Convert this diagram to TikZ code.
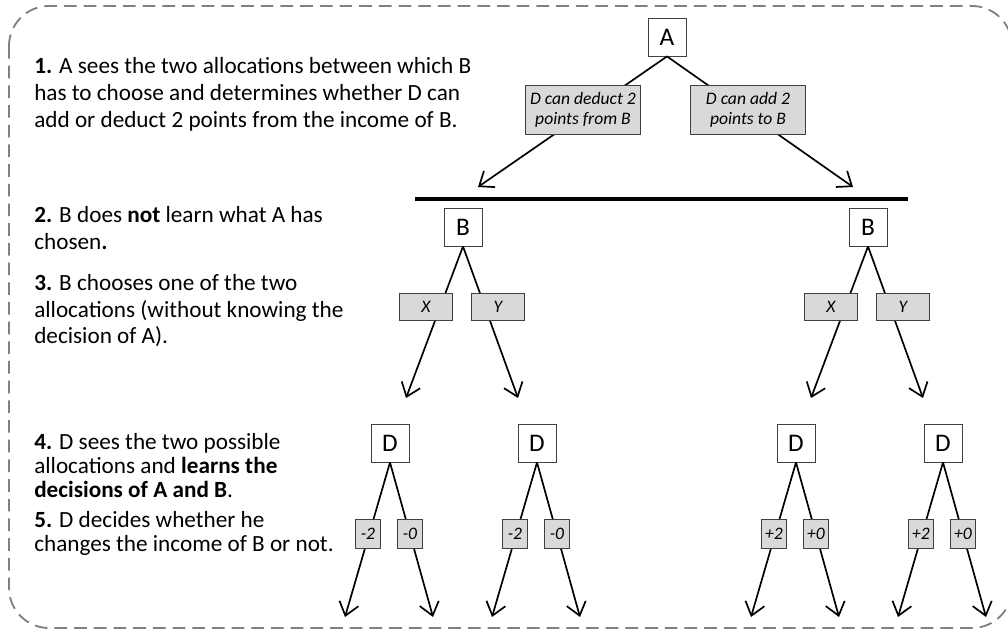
\documentclass[tikz,border=0pt]{standalone}
\usepackage{fontspec}
\setmainfont{Carlito}
\usetikzlibrary{positioning, arrows.meta}

\tikzset{
  player/.style={draw=black!75, line width=0.6pt, fill=white, minimum width=0.95cm, minimum height=0.95cm, inner sep=0pt, font=\fontsize{18}{18}\selectfont},
  choice/.style={draw=black!75, line width=0.6pt, fill=black!15, inner sep=0pt, align=center, font=\fontsize{12.5}{14.5}\selectfont\itshape},
  wide/.style={minimum width=2.875cm, minimum height=1.225cm},
  letter/.style={minimum width=1.325cm, minimum height=0.675cm},
  points/.style={minimum width=0.625cm, minimum height=0.725cm},
  arr/.style={-{Straight Barb[length=9pt,width=14pt]}, line width=1.2pt},
  textblock/.style={anchor=base west, align=left, inner sep=0pt, font=\fontsize{16.5}{19.2}\selectfont},
  tight/.style={font=\fontsize{16.5}{17}\selectfont}
}

\begin{document}
\begin{tikzpicture}[x=0.025cm, y=-0.025cm]
  % Rahmen
  \useasboundingbox (0,0) rectangle (1008,636);
  \draw[black!50, line width=1.3pt, dash pattern=on 9pt off 5pt, rounded corners=1cm] (9,6) rectangle (1012,628);

  % Ablauf (Anker = Grundlinie der letzten Zeile)
  \node[textblock] (t1) at (34,128) {\textbf{1.} A sees the two allocations between which B\\has to choose and determines whether D can\\add or deduct 2 points from the income of B.};
  \node[textblock] (t2) at (34,250) {\textbf{2.} B does \textbf{not} learn what A has\\chosen\textbf{.}};
  \node[textblock] (t3) at (34,344) {\textbf{3.} B chooses one of the two\\allocations (without knowing the\\decision of A).};
  \node[textblock, tight] (t4) at (34,497) {\textbf{4.} D sees the two possible\\allocations and \textbf{learns the}\\\textbf{decisions of A and B}.};
  \node[textblock, tight] (t5) at (34,551) {\textbf{5.} D decides whether he\\changes the income of B or not.};

  % A
  \node[player] (A) at (667,37) {A};
  \coordinate (a1) at (478,187);
  \coordinate (a2) at (853,187);
  \draw[arr] (A.south) -- (a1);
  \draw[arr] (A.south) -- (a2);
  \node[choice, wide] (deduct) at (583,110) {D can deduct 2\\points from B};
  \node[choice, wide] (add) at (748,110) {D can add 2\\points to B};

  % Informationsmenge
  \coordinate (i1) at (415,199);
  \coordinate (i2) at (908,199);
  \draw[line width=2.2pt] (i1) -- (i2);

  % B
  \foreach \n/\x in {bl/463, br/868} {
    \node[player] (\n) at (\x,227) {B};
    \coordinate (\n-x) at (\x-57,398);
    \coordinate (\n-y) at (\x+55,398);
    \draw[arr] (\n.south) -- (\n-x);
    \draw[arr] (\n.south) -- (\n-y);
    \node[choice, letter] (\n-X) at (\x-37,307) {X};
    \node[choice, letter] (\n-Y) at (\x+35,307) {Y};
  }

  % D
  \foreach \n/\x/\s in {d1/390/-, d2/537/-, d3/796/+, d4/943/+} {
    \node[player] (\n) at (\x,443) {D};
    \coordinate (\n-l) at (\x-45,617);
    \coordinate (\n-r) at (\x+43,617);
    \draw[arr] (\n.south) -- (\n-l);
    \draw[arr] (\n.south) -- (\n-r);
    \node[choice, points] (\n-a) at (\x-22,534) {\s2};
    \node[choice, points] (\n-b) at (\x+20,534) {\s0};
  }
\end{tikzpicture}
\end{document}
